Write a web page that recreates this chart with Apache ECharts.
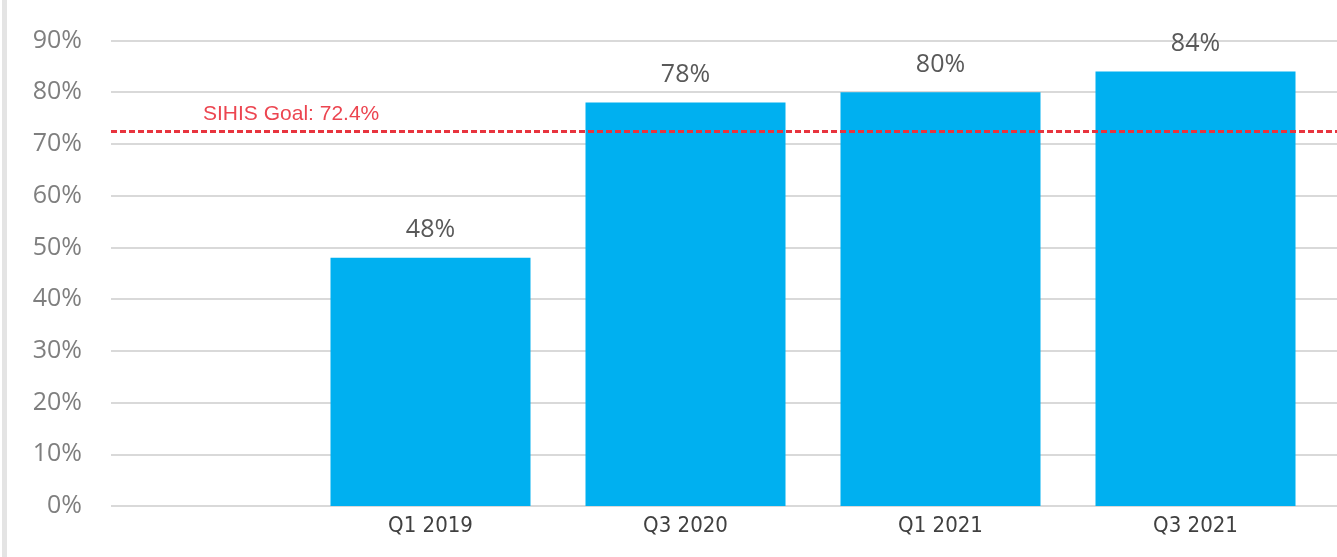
<!DOCTYPE html>
<html>
<head>
<meta charset="utf-8">
<script src="https://cdn.jsdelivr.net/npm/echarts@6/dist/echarts.min.js"></script>
<style>
  html, body { margin: 0; padding: 0; background: #ffffff; }
  #chart { width: 1337px; height: 557px; }
</style>
</head>
<body>
<div id="chart"></div>
<script>
// Survey periods and the share reached in each
const categories = ['Q1 2019', 'Q3 2020', 'Q1 2021', 'Q3 2021'];
const values = [48, 78, 80, 84];
// Target line
const goalValue = 72.4;
const goalLabel = 'SIHIS Goal: ' + goalValue + '%';
// Percentage axis
const yMin = 0;
const yMax = 90;
const yStep = 10;

const chart = echarts.init(document.getElementById('chart'));

const gridTop = 40.5;
const gridBottom = 51;

chart.setOption({
  animation: false,
  backgroundColor: '#ffffff',
  graphic: [{
    type: 'rect',
    shape: { x: 2, y: 0, width: 5, height: 557 },
    style: { fill: '#e4e4e4' },
    silent: true
  }],
  grid: [
    // full-width area carrying the gridlines and the goal line
    { left: 111, right: 0, top: gridTop, bottom: gridBottom },
    // area carrying the bars
    { left: 303, right: 14, top: gridTop, bottom: gridBottom }
  ],
  xAxis: [
    { type: 'value', gridIndex: 0, min: 0, max: 1, show: false },
    {
      type: 'category',
      gridIndex: 1,
      data: categories,
      axisLine: { show: false },
      axisTick: { show: false },
      axisLabel: {
        color: '#404040',
        fontFamily: '"DejaVu Sans Condensed", "Liberation Sans", sans-serif',
        fontSize: 22,
        margin: 9
      }
    }
  ],
  yAxis: [
    {
      type: 'value',
      gridIndex: 0,
      min: yMin,
      max: yMax,
      interval: yStep,
      axisLine: { show: false },
      axisTick: { show: false },
      axisLabel: {
        formatter: '{value}%',
        color: '#7f7f7f',
        fontFamily: '"Open Sans", sans-serif',
        fontSize: 25,
        margin: 29
      },
      splitLine: { lineStyle: { color: '#d9d9d9', width: 2 } }
    },
    {
      type: 'value',
      gridIndex: 1,
      min: yMin,
      max: yMax,
      interval: yStep,
      show: false,
      splitLine: { show: false }
    }
  ],
  series: [
    {
      type: 'bar',
      xAxisIndex: 1,
      yAxisIndex: 1,
      data: values,
      barWidth: 200,
      itemStyle: { color: '#00b0f0' },
      label: {
        show: true,
        position: 'top',
        distance: 15,
        formatter: '{c}%',
        color: '#595959',
        fontFamily: '"Open Sans", sans-serif',
        fontSize: 25
      },
      z: 2
    },
    {
      type: 'line',
      xAxisIndex: 0,
      yAxisIndex: 0,
      data: [],
      z: 5,
      markLine: {
        silent: true,
        symbol: 'none',
        animation: false,
        lineStyle: { color: '#e8343e', width: 3, type: [6, 3] },
        label: {
          show: true,
          position: 'insideStartTop',
          distance: [92, 7],
          formatter: goalLabel,
          color: '#ec4550',
          fontFamily: '"Liberation Sans", Arial, sans-serif',
          fontSize: 21
        },
        data: [{ yAxis: goalValue }]
      }
    }
  ]
});
</script>
</body>
</html>
